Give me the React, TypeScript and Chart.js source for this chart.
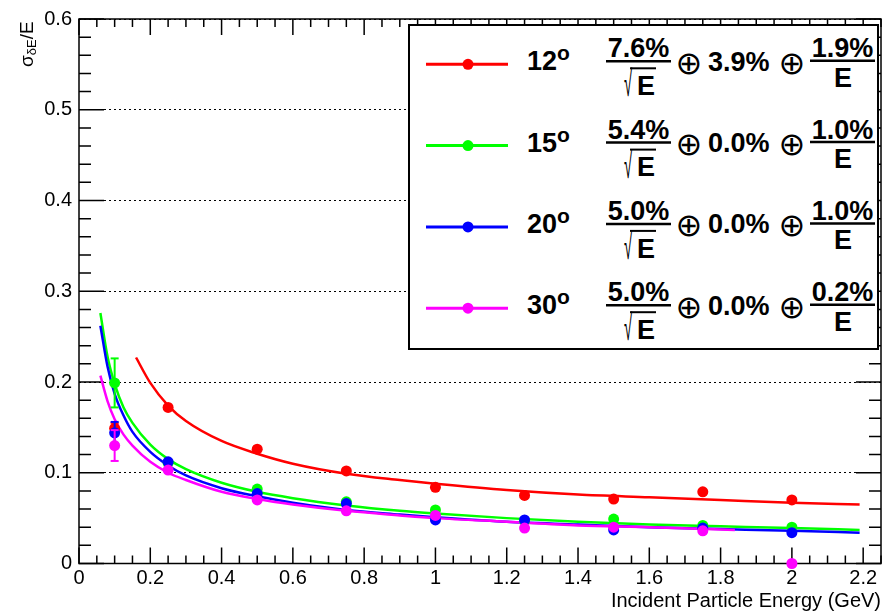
import React, { useEffect, useRef } from "react";
import { Chart, registerables } from "chart.js";

Chart.register(...registerables);

// ---- data ----
const energies = [0.1, 0.25, 0.5, 0.75, 1.0, 1.25, 1.5, 1.75, 2.0];
const res12 = [0.149, 0.172, 0.126, 0.102, 0.084, 0.075, 0.071, 0.079, 0.070];
const res15 = [0.199, 0.111, 0.082, 0.068, 0.059, 0.047, 0.049, 0.042, 0.040];
const res20 = [0.144, 0.112, 0.077, 0.066, 0.048, 0.048, 0.037, 0.039, 0.034];
const res30 = [0.130, 0.103, 0.070, 0.058, 0.053, 0.039, 0.040, 0.036, 0.0];
const err12 = [0.006, 0, 0, 0, 0, 0, 0, 0, 0];
const err15 = [0.027, 0, 0, 0, 0, 0, 0, 0, 0];
const err20 = [0.012, 0, 0, 0, 0, 0, 0, 0, 0];
const err30 = [0.017, 0, 0, 0, 0, 0, 0, 0, 0];

// fit curves, values
const fitE12 = [0.16, 0.2, 0.25, 0.3, 0.4, 0.5, 0.6, 0.75, 0.9, 1.0, 1.2, 1.4, 1.6, 1.8, 2.0, 2.19];
const fit12 = [0.227, 0.199, 0.174, 0.157, 0.135, 0.121, 0.110, 0.099, 0.092, 0.088, 0.081, 0.076, 0.073, 0.070, 0.067, 0.065];
const fitE15 = [0.06, 0.08, 0.1, 0.125, 0.15, 0.2, 0.25, 0.3, 0.4, 0.5, 0.6, 0.75, 0.9, 1.0, 1.2, 1.4, 1.6, 1.8, 2.0, 2.19];
const fit15 = [0.276, 0.228, 0.198, 0.172, 0.155, 0.131, 0.115, 0.104, 0.089, 0.079, 0.072, 0.064, 0.058, 0.055, 0.050, 0.046, 0.043, 0.041, 0.039, 0.037];
const fitE20 = [0.06, 0.08, 0.1, 0.125, 0.15, 0.2, 0.25, 0.3, 0.4, 0.5, 0.6, 0.75, 0.9, 1.0, 1.2, 1.4, 1.6, 1.8, 2.0, 2.19];
const fit20 = [0.262, 0.217, 0.187, 0.163, 0.145, 0.123, 0.108, 0.097, 0.083, 0.074, 0.067, 0.059, 0.054, 0.051, 0.046, 0.043, 0.040, 0.038, 0.036, 0.034];
const fitE30 = [0.06, 0.08, 0.1, 0.125, 0.15, 0.2, 0.25, 0.3, 0.4, 0.5, 0.6, 0.75, 0.9, 1.0, 1.2, 1.4, 1.6, 1.84];
const fit30 = [0.207, 0.179, 0.159, 0.142, 0.130, 0.112, 0.100, 0.092, 0.079, 0.071, 0.065, 0.058, 0.053, 0.050, 0.046, 0.042, 0.040, 0.037];

const xTicks = [0, 0.2, 0.4, 0.6, 0.8, 1.0, 1.2, 1.4, 1.6, 1.8, 2.0, 2.2];
const xTickLabels = ["0", "0.2", "0.4", "0.6", "0.8", "1", "1.2", "1.4", "1.6", "1.8", "2", "2.2"];
const yTicks = [0, 0.1, 0.2, 0.3, 0.4, 0.5, 0.6];
const yTickLabels = ["0", "0.1", "0.2", "0.3", "0.4", "0.5", "0.6"];

const legendAngles = ["12", "15", "20", "30"];
const stochTerms = ["7.6%", "5.4%", "5.0%", "5.0%"];
const constTerms = ["3.9%", "0.0%", "0.0%", "0.0%"];
const noiseTerms = ["1.9%", "1.0%", "1.0%", "0.2%"];
const seriesColors = ["#ff0000", "#00ff00", "#0000ff", "#ff00ff"];

const xTitle = "Incident Particle Energy (GeV)";

const FONT = "'Liberation Sans', Arial, Helvetica, sans-serif";

const rootAxes = {
  id: "rootAxes",
  beforeDatasetsDraw(chart: any) {
    const { ctx, chartArea: a, scales } = chart;
    const x = scales.x;
    const y = scales.y;
    ctx.save();
    ctx.strokeStyle = "#000";
    ctx.lineWidth = 1.5;
    ctx.beginPath();
    // x ticks (bottom and top)
    for (let i = 0; i * 0.05 <= x.max + 1e-9; i++) {
      const v = Math.round(i * 5) / 100;
      const px = x.getPixelForValue(v);
      const len = i % 4 === 0 ? 16 : 8;
      ctx.moveTo(px, a.bottom);
      ctx.lineTo(px, a.bottom - len);
      ctx.moveTo(px, a.top);
      ctx.lineTo(px, a.top + len);
    }
    // y ticks (left and right)
    for (let i = 0; i * 0.02 <= y.max + 1e-9; i++) {
      const v = Math.round(i * 2) / 100;
      const py = y.getPixelForValue(v);
      const len = i % 5 === 0 ? 25 : 12;
      ctx.moveTo(a.left, py);
      ctx.lineTo(a.left + len, py);
      ctx.moveTo(a.right, py);
      ctx.lineTo(a.right - len, py);
    }
    ctx.stroke();
    ctx.lineWidth = 1.5;
    ctx.strokeRect(a.left, a.top, a.right - a.left, a.bottom - a.top);
    ctx.restore();
  },
};

function pts(xs: number[], ys: number[]) {
  return xs.map((x, i) => ({ x, y: ys[i] }));
}

function errPts(xs: number[], ys: number[], es: number[]) {
  const out: any[] = [];
  xs.forEach((x, i) => {
    if (es[i] > 0) {
      out.push({ x, y: ys[i] - es[i] });
      out.push({ x, y: ys[i] + es[i] });
      out.push({ x, y: null });
    }
  });
  return out;
}

export default function App() {
  const canvasRef = useRef<HTMLCanvasElement | null>(null);

  useEffect(() => {
    document.body.style.margin = "0";
    const canvas = canvasRef.current;
    if (!canvas) return;
    Chart.defaults.font.family = FONT;
    Chart.defaults.color = "#000";

    const series = [
      { fx: fitE30, fy: fit30, y: res30, e: err30, c: seriesColors[3] },
      { fx: fitE20, fy: fit20, y: res20, e: err20, c: seriesColors[2] },
      { fx: fitE15, fy: fit15, y: res15, e: err15, c: seriesColors[1] },
      { fx: fitE12, fy: fit12, y: res12, e: err12, c: seriesColors[0] },
    ];
    const datasets: any[] = [];
    series.forEach((s, k) => {
      datasets.push({
        type: "line",
        data: pts(s.fx, s.fy),
        borderColor: s.c,
        borderWidth: 2.5,
        pointRadius: 0,
        fill: false,
        cubicInterpolationMode: "monotone",
        order: 10 + k,
      });
      datasets.push({
        type: "scatter",
        data: pts(energies, s.y),
        backgroundColor: s.c,
        borderColor: s.c,
        pointRadius: 5.5,
        pointHoverRadius: 5.5,
        borderWidth: 0,
        showLine: false,
        clip: false,
        order: k,
      });
      datasets.push({
        type: "line",
        data: errPts(energies, s.y, s.e),
        borderColor: s.c,
        borderWidth: 2,
        pointStyle: "line",
        pointRadius: 4,
        pointBorderColor: s.c,
        pointBorderWidth: 2,
        spanGaps: false,
        fill: false,
        clip: false,
        order: k,
      });
    });

    const chart = new Chart(canvas, {
      type: "scatter",
      data: { datasets },
      plugins: [rootAxes],
      options: {
        responsive: false,
        animation: false,
        events: [],
        layout: { padding: { top: 18, right: 1, left: 0, bottom: 0 } },
        plugins: {
          legend: { display: false },
          tooltip: { enabled: false },
        },
        scales: {
          x: {
            type: "linear",
            min: 0,
            max: 2.25,
            afterBuildTicks: (s: any) => {
              s.ticks = xTicks.map((v) => ({ value: v }));
            },
            afterFit: (s: any) => {
              s.height = 49.5;
            },
            grid: { display: false, drawTicks: false },
            border: { display: false },
            ticks: {
              padding: 3,
              color: "#000",
              font: { size: 20, family: FONT },
              maxRotation: 0,
              autoSkip: false,
              callback: (_v: any, i: number) => xTickLabels[i],
            },
            title: {
              display: true,
              text: xTitle,
              align: "end",
              color: "#000",
              font: { size: 20, family: FONT },
              padding: { top: 0, bottom: 0 },
            },
          },
          y: {
            type: "linear",
            min: 0,
            max: 0.6,
            afterBuildTicks: (s: any) => {
              s.ticks = yTicks.map((v) => ({ value: v }));
            },
            afterFit: (s: any) => {
              s.width = 79;
            },
            grid: { color: "#000", lineWidth: 1, drawTicks: false },
            border: { display: false, dash: [2, 3] },
            ticks: {
              padding: 7,
              color: "#000",
              font: { size: 20, family: FONT },
              autoSkip: false,
              callback: (_v: any, i: number) => yTickLabels[i],
            },
          },
        },
      } as any,
    });
    return () => chart.destroy();
  }, []);

  const rowY = (i: number) => 64.3 + 81.3 * i;

  return (
    <div style={{ position: "relative", width: 887, height: 613, background: "#fff" }}>
      <canvas ref={canvasRef} width={887} height={613} style={{ display: "block" }} />
      <svg
        width={887}
        height={613}
        style={{ position: "absolute", left: 0, top: 0, pointerEvents: "none" }}
      >
        <text
          transform="translate(33,67) rotate(-90)"
          fontFamily={FONT}
          fontSize={19}
          fill="#000"
        >
          σ<tspan fontSize={13} dy={2.5}>δE</tspan>
          <tspan fontSize={19} dy={-2.5}>/E</tspan>
        </text>
        <rect x={409} y={25} width={469} height={324} fill="#fff" stroke="#000" strokeWidth={2} />
        {legendAngles.map((ang, i) => {
          const yc = rowY(i);
          const col = seriesColors[i];
          return (
            <g key={ang} fontFamily={FONT} fontWeight="bold" fill="#000">
              <line x1={426} x2={508} y1={yc} y2={yc} stroke={col} strokeWidth={3} />
              <circle cx={468} cy={yc} r={5.5} fill={col} />
              <text x={527} y={yc + 6} fontSize={27}>
                {ang}
                <tspan fontSize={21} dy={-10}>o</tspan>
              </text>
              <text x={638.5} y={yc - 7} fontSize={27} textAnchor="middle">
                {stochTerms[i]}
              </text>
              <line x1={606} x2={671} y1={yc - 3} y2={yc - 3} stroke="#000" strokeWidth={2.5} />
              <text
                transform={`translate(624, ${yc + 32}) scale(0.55, 1.35)`}
                fontSize={27}
                fontWeight="normal"
              >
                √
              </text>
              <text x={637} y={yc + 30.7} fontSize={27}>
                E
              </text>
              <line x1={630} x2={656} y1={yc + 4} y2={yc + 4} stroke="#000" strokeWidth={2} />
              <text
                x={689}
                y={yc - 1.5}
                fontSize={32}
                fontWeight="normal"
                fontFamily="'DejaVu Sans', sans-serif"
                textAnchor="middle"
                dominantBaseline="central"
              >
                ⊕
              </text>
              <text x={708} y={yc + 6.4} fontSize={27}>
                {constTerms[i]}
              </text>
              <text
                x={792}
                y={yc - 1.5}
                fontSize={32}
                fontWeight="normal"
                fontFamily="'DejaVu Sans', sans-serif"
                textAnchor="middle"
                dominantBaseline="central"
              >
                ⊕
              </text>
              <text x={842.5} y={yc - 7} fontSize={27} textAnchor="middle">
                {noiseTerms[i]}
              </text>
              <line x1={810} x2={875} y1={yc - 3.5} y2={yc - 3.5} stroke="#000" strokeWidth={2.5} />
              <text x={843} y={yc + 22.4} fontSize={27} textAnchor="middle">
                E
              </text>
            </g>
          );
        })}
      </svg>
    </div>
  );
}
